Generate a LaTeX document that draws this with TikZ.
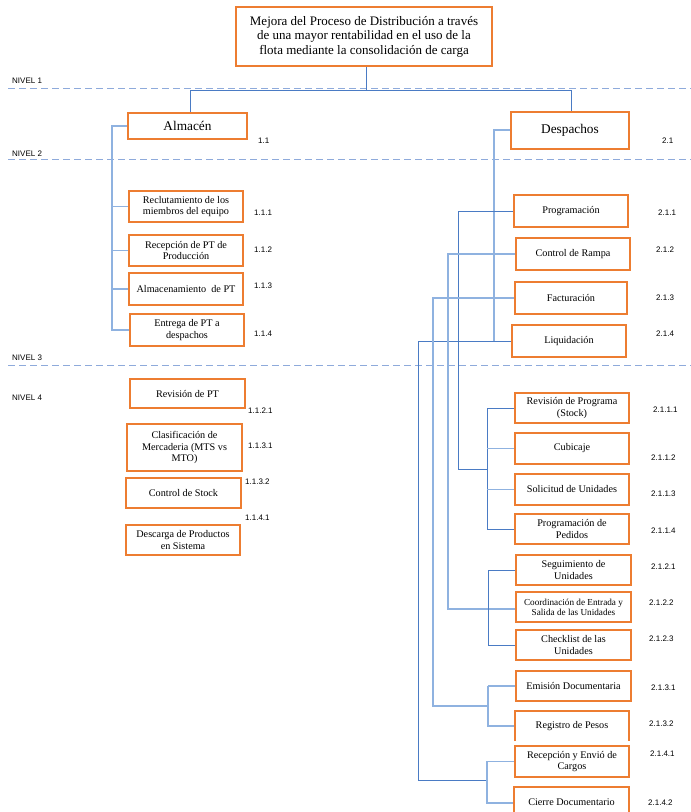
\documentclass[tikz,border=0pt]{standalone}
\usepackage{fontspec}
\setmainfont{Liberation Serif}
\newfontfamily\labfont{Liberation Sans}
\begin{document}
\begin{tikzpicture}[x=1pt,y=-1pt,
  box/.style={draw=boxorange,line width=1.5pt,fill=white,inner sep=1pt,align=center,
    font=\fontsize{10.2}{11.3}\selectfont},
  openbox/.style={draw=none,fill=white,inner sep=1pt,align=center,
    font=\fontsize{10.2}{11.3}\selectfont},
  link/.style={draw=linkdark,line width=0.8pt},
  linklt/.style={draw=linklight,line width=1.5pt},
  lvl/.style={draw=lvlblue,line width=0.9pt,dash pattern=on 7pt off 4pt},
  lab/.style={anchor=west,inner sep=0pt,font=\labfont\fontsize{8}{10}\selectfont}]
\definecolor{boxorange}{HTML}{ED7D31}
\definecolor{linkdark}{HTML}{4A7BC4}
\definecolor{linklight}{HTML}{8FB2E0}
\definecolor{lvlblue}{HTML}{8EAADB}
\useasboundingbox (0,0) rectangle (691,812);
\fill[white] (0,0) rectangle (691,812);

% level lines
\coordinate (l1a) at (8,88);   \coordinate (l1b) at (691,88);
\coordinate (l2a) at (8,159);  \coordinate (l2b) at (691,159);
\coordinate (l3a) at (8,365);  \coordinate (l3b) at (691,365);
\draw[lvl] (l1a) -- (l1b);
\draw[lvl] (l2a) -- (l2b);
\draw[lvl] (l3a) -- (l3b);
\node[lab] (n1) at (12,81) {NIVEL 1};
\node[lab] (n2) at (12,154) {NIVEL 2};
\node[lab] (n3) at (12,358) {NIVEL 3};
\node[lab] (n4) at (12,398) {NIVEL 4};

\coordinate (j0) at (366,90);

% connectors (drawn first, boxes on top)
\draw[link] (366,66) -- (j0);
\draw[link] (j0) -| (190,113);
\draw[link] (j0) -| (571,112);

\draw[linklt] (128,126) -| (112,330) -- (130,330);
\draw[linklt] (112,206.5) -- (129,206.5);
\draw[linklt] (112,250.5) -- (129,250.5);
\draw[linklt] (112,289) -- (129,289);

\draw[linklt] (511,130) -| (494,341);
\draw[link] (512,341) -- (418,341) -- (418,780) -- (487,780);
\draw[link] (514,211) -| (458,469) -- (487,469);
\draw[linklt] (516,254) -| (448,609) -- (516,609);
\draw[linklt] (515,298) -| (433,706) -- (488,706);

\draw[link] (515,408) -| (487,529) -- (515,529);
\draw[linklt] (487,448.5) -- (515,448.5);
\draw[linklt] (487,489.5) -- (515,489.5);

\draw[link] (516,570) -| (488,645) -- (516,645);
\draw[linklt] (488,686) -| (488,726) -- (515,726);
\draw[linklt] (488,686) -- (516,686);

\draw[linklt] (515,761.5) -| (487,803) -- (514,803);

% boxes
\node[box,minimum width=256,minimum height=59,font=\fontsize{13}{14.5}\selectfont] (top) at (364,36.5)
  {Mejora del Proceso de Distribución a través\\de una mayor rentabilidad en el uso de la\\flota mediante la consolidación de carga};
\node[box,minimum width=119,minimum height=26,font=\fontsize{13.3}{15}\selectfont] (alm) at (187.5,126) {Almacén};
\node[box,minimum width=118,minimum height=37,font=\fontsize{13.3}{15}\selectfont] (desp) at (570,130.5) {Despachos};

\node[box,minimum width=114,minimum height=31] (a1) at (186,206.5) {Reclutamiento de los\\miembros del equipo};
\node[box,minimum width=114,minimum height=31] (a2) at (186,250.5) {Recepción de PT de\\Producción};
\node[box,minimum width=114,minimum height=32] (a3) at (186,289) {Almacenamiento\ \ de PT};
\node[box,minimum width=114,minimum height=32] (a4) at (187,330) {Entrega de PT a\\despachos};

\node[box,minimum width=115,minimum height=29] (r1) at (187.5,393.5) {Revisión de PT};
\node[box,minimum width=115,minimum height=47] (r2) at (184.5,447.5) {Clasificación de\\Mercaderia (MTS vs\\MTO)};
\node[box,minimum width=115,minimum height=30] (r3) at (183.5,493) {Control de Stock};
\node[box,minimum width=114,minimum height=30] (r4) at (183,540) {Descarga de Productos\\en Sistema};

\node[box,minimum width=114,minimum height=32] (d1) at (571,211) {Programación};
\node[box,minimum width=114,minimum height=32] (d2) at (573,254) {Control de Rampa};
\node[box,minimum width=112,minimum height=32] (d3) at (571,298) {Facturación};
\node[box,minimum width=114,minimum height=32] (d4) at (569,341) {Liquidación};

\node[box,minimum width=114,minimum height=30] (e1) at (572,408) {Revisión de Programa\\(Stock)};
\node[box,minimum width=114,minimum height=31] (e2) at (572,448.5) {Cubicaje};
\node[box,minimum width=114,minimum height=31] (e3) at (572,489.5) {Solicitud de Unidades};
\node[box,minimum width=114,minimum height=30] (e4) at (572,529) {Programación de\\Pedidos};

\node[box,minimum width=115,minimum height=30] (f1) at (573.5,570) {Seguimiento de\\Unidades};
\node[box,minimum width=115,minimum height=30,font=\fontsize{9.2}{10}\selectfont] (f2) at (573.5,607) {Coordinación de Entrada y\\Salida de las Unidades};
\node[box,minimum width=115,minimum height=30] (f3) at (573.5,645) {Checklist de las\\Unidades};

\node[box,minimum width=115,minimum height=30] (g1) at (573.5,686) {Emisión Documentaria};
\node[openbox,minimum width=114,minimum height=30] (g2) at (572,726) {Registro de Pesos};
\draw[draw=boxorange,line width=1.5pt] (g2.south west) -- (g2.north west) -- (g2.north east) -- (g2.south east);

\node[box,minimum width=114,minimum height=31] (h1) at (572,761.5) {Recepción y Envió de\\Cargos};
\node[box,minimum width=115,minimum height=31] (h2) at (571.5,802.5) {Cierre Documentario};

% number labels
\node[lab] (t11) at (258,141) {1.1};
\node[lab] (t21) at (662,141) {2.1};
\node[lab] (t111) at (254,213) {1.1.1};
\node[lab] (t112) at (254,250) {1.1.2};
\node[lab] (t113) at (254,286) {1.1.3};
\node[lab] (t114) at (254,334) {1.1.4};
\node[lab] (t1121) at (248,411) {1.1.2.1};
\node[lab] (t1131) at (248,446) {1.1.3.1};
\node[lab] (t1132) at (245,482) {1.1.3.2};
\node[lab] (t1141) at (245,518) {1.1.4.1};
\node[lab] (t211) at (658,213) {2.1.1};
\node[lab] (t212) at (656,250) {2.1.2};
\node[lab] (t213) at (656,298) {2.1.3};
\node[lab] (t214) at (656,334) {2.1.4};
\node[lab] (t2111) at (653,410) {2.1.1.1};
\node[lab] (t2112) at (651,458) {2.1.1.2};
\node[lab] (t2113) at (651,494) {2.1.1.3};
\node[lab] (t2114) at (651,531) {2.1.1.4};
\node[lab] (t2121) at (651,567) {2.1.2.1};
\node[lab] (t2122) at (649,603) {2.1.2.2};
\node[lab] (t2123) at (649,639) {2.1.2.3};
\node[lab] (t2131) at (651,688) {2.1.3.1};
\node[lab] (t2132) at (649,724) {2.1.3.2};
\node[lab] (t2141) at (650,754) {2.1.4.1};
\node[lab] (t2142) at (648,803) {2.1.4.2};
\end{tikzpicture}
\end{document}
